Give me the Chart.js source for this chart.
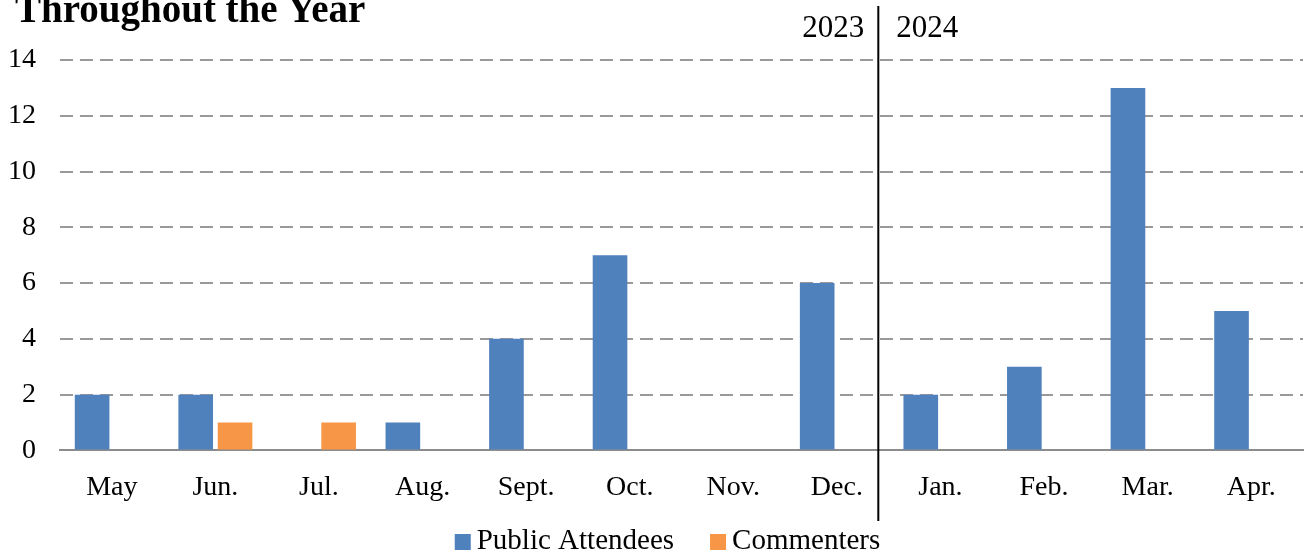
<!DOCTYPE html>
<html>
<head>
<meta charset="utf-8">
<script src="https://cdn.jsdelivr.net/npm/chart.js@4"></script>
<style>
  html, body { margin: 0; padding: 0; background: #fff; }
  #wrap { width: 1307px; height: 555px; }
</style>
</head>
<body>
<div id="wrap"><canvas id="chart" width="1307" height="555"></canvas></div>
<script>
// datos
const meses = ['May', 'Jun.', 'Jul.', 'Aug.', 'Sept.', 'Oct.', 'Nov.', 'Dec.', 'Jan.', 'Feb.', 'Mar.', 'Apr.'];
const asistentes = [2, 2, 0, 1, 4, 7, 0, 6, 2, 3, 13, 5];
const comentaristas = [0, 1, 1, 0, 0, 0, 0, 0, 0, 0, 0, 0];
const anios = ['2023', '2024'];
const titulo = 'Throughout the Year';

const FUENTE = "'Liberation Serif', 'DejaVu Serif', serif";

// linea vertical entre Dec. y Jan. + etiquetas de anio + titulo
const divisorAnios = {
    id: 'divisorAnios',
    afterDraw(chart) {
        const { ctx } = chart;
        const x = chart.scales.x;
        const paso = x.getPixelForValue(8) - x.getPixelForValue(7);
        const xLinea = x.getPixelForValue(7) + paso * 0.4;
        ctx.save();
        ctx.strokeStyle = '#000';
        ctx.lineWidth = 2;
        ctx.beginPath();
        ctx.moveTo(xLinea, 6);
        ctx.lineTo(xLinea, 521);
        ctx.stroke();

        ctx.fillStyle = '#000';
        ctx.font = '31px ' + FUENTE;
        ctx.textBaseline = 'alphabetic';
        ctx.textAlign = 'right';
        ctx.fillText(anios[0], xLinea - 14, 37);
        ctx.textAlign = 'left';
        ctx.fillText(anios[1], xLinea + 18, 37);

        ctx.font = 'bold 39px ' + FUENTE;
        ctx.textAlign = 'left';
        ctx.fillText(titulo, 15, 22);
        ctx.restore();
    }
};

// leyenda propia: cuadro pegado al texto como en Excel
const leyendaInferior = {
    id: 'leyendaInferior',
    afterDraw(chart) {
        const { ctx } = chart;
        const caja = 16, hueco = 6, entre = 36;
        ctx.save();
        ctx.font = '29px ' + FUENTE;
        const items = chart.data.datasets.map(ds => ({
            texto: ds.label, color: ds.backgroundColor, ancho: ctx.measureText(ds.label).width
        }));
        const total = items.reduce((a, it) => a + caja + hueco + it.ancho, 0) + entre * (items.length - 1);
        let x = chart.width / 2 + 14 - total / 2;
        const base = 549;
        items.forEach(it => {
            ctx.fillStyle = it.color;
            ctx.fillRect(x, base - 15, caja, caja);
            x += caja + hueco;
            ctx.fillStyle = '#000';
            ctx.textAlign = 'left';
            ctx.textBaseline = 'alphabetic';
            ctx.fillText(it.texto, x, base);
            x += it.ancho + entre;
        });
        ctx.restore();
    }
};

new Chart(document.getElementById('chart'), {
    type: 'bar',
    data: {
        labels: meses,
        datasets: [
            { label: 'Public Attendees', data: asistentes, backgroundColor: '#4F81BD' },
            { label: 'Commenters', data: comentaristas, backgroundColor: '#F79646' }
        ]
    },
    options: {
        responsive: false,
        animation: false,
        devicePixelRatio: 1,
        categoryPercentage: 0.76,
        barPercentage: 0.88,
        layout: { padding: { top: 60, right: 4, left: -16, bottom: 39 } },
        plugins: {
            legend: { display: false },
            tooltip: { enabled: false }
        },
        scales: {
            x: {
                grid: { display: false },
                border: { color: '#8c8c8c', width: 2 },
                ticks: { font: { family: FUENTE, size: 28 }, color: '#000', padding: 12 }
            },
            y: {
                min: 0,
                max: 14,
                ticks: { stepSize: 2, font: { family: FUENTE, size: 28 }, color: '#000', padding: 24 },
                border: { display: false, dash: [13, 7] },
                grid: {
                    color: (c) => c.tick.value === 0 ? 'rgba(0,0,0,0)' : '#999',
                    lineWidth: 2,
                    drawTicks: false
                }
            }
        }
    },
    plugins: [divisorAnios, leyendaInferior]
});
</script>
</body>
</html>
